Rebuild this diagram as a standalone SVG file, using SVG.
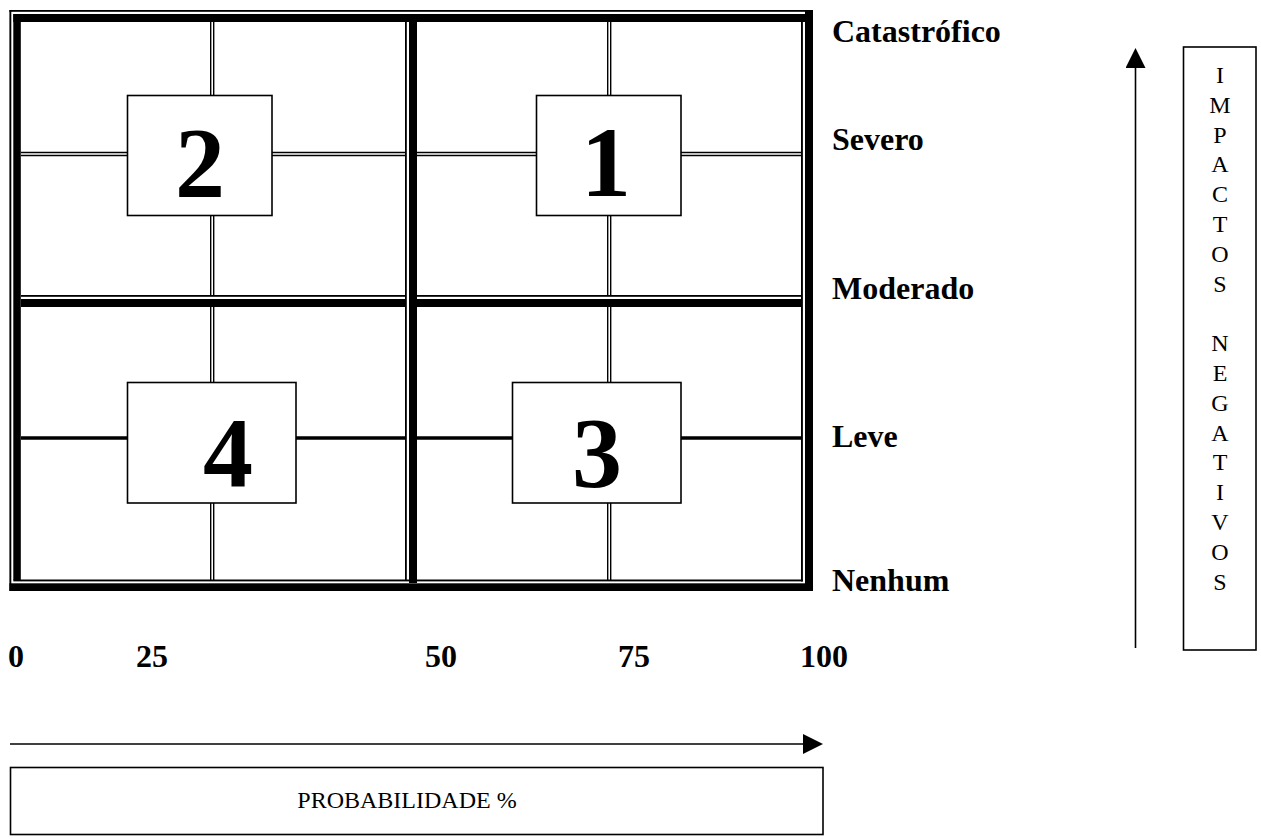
<svg xmlns="http://www.w3.org/2000/svg" width="1261" height="839" viewBox="0 0 1261 839">
<style>
.b{fill:#000}
.sub{stroke:#000;stroke-width:1.4;fill:none}
.subk{stroke:#000;stroke-width:3.6;fill:none}
.nbox{fill:#fff;stroke:#000;stroke-width:1.6}
.num{font-family:"Liberation Serif","Times New Roman",serif;font-weight:bold;font-size:100px;text-anchor:middle}
.lab{font-family:"Liberation Serif","Times New Roman",serif;font-weight:bold;font-size:32px}
.txt{font-family:"Liberation Serif","Times New Roman",serif;font-size:24px;text-anchor:middle}
.ln{stroke:#000;stroke-width:1.6;fill:none}
</style>
<defs>
<marker id="ah" viewBox="0 0 20 20" refX="0" refY="10" markerWidth="20" markerHeight="20" markerUnits="userSpaceOnUse" orient="auto">
<path d="M0,0 L20,10 L0,20 Z" fill="#000"/>
</marker>
</defs>
<rect width="1261" height="839" fill="#fff"/>
<g id="grid">
<path class="sub" d="M210.7,22V295M213.7,22V295M607.7,22V295M610.7,22V295M21,152.5H405M21,155.5H405M417,152.5H801M417,155.5H801"/>
<path class="sub" d="M210.7,307V580M213.7,307V580M607.7,307V580M610.7,307V580"/>
<path class="subk" d="M21,438H405M417,438H801"/>
<rect class="b" x="9.4" y="10" width="1.9" height="581"/>
<rect class="b" x="13.3" y="14" width="7.5" height="566"/>
<rect class="b" x="9.4" y="10" width="803.6" height="1.8"/>
<rect class="b" x="13.3" y="14" width="799.7" height="8"/>
<rect class="b" x="405" y="14" width="1.8" height="566"/>
<rect class="b" x="409" y="14" width="8" height="569"/>
<rect class="b" x="21" y="295" width="384" height="1.8"/>
<rect class="b" x="417" y="295" width="384" height="1.8"/>
<rect class="b" x="21" y="299" width="384" height="8"/>
<rect class="b" x="409" y="299" width="392" height="8"/>
<rect class="b" x="801" y="22" width="1.9" height="559.5"/>
<rect class="b" x="805" y="10" width="8" height="581"/>
<rect class="b" x="13.3" y="579.5" width="789.6" height="1.9"/>
<rect class="b" x="9.4" y="583.3" width="803.6" height="7.7"/>
</g>
<g id="box2">
<rect class="nbox" x="127.5" y="95.5" width="144.5" height="120"/>
<text class="num" x="200" y="196">2</text>
</g>
<g id="box1">
<rect class="nbox" x="536.5" y="95.5" width="144.5" height="120"/>
<text class="num" x="606" y="196">1</text>
</g>
<g id="box4">
<rect class="nbox" x="127.5" y="382.5" width="168.5" height="120.5"/>
<text class="num" x="228" y="486">4</text>
</g>
<g id="box3">
<rect class="nbox" x="512.5" y="382.5" width="168.5" height="120.5"/>
<text class="num" x="597" y="486">3</text>
</g>
<g id="impact-labels">
<text class="lab" x="832" y="42">Catastrófico</text>
<text class="lab" x="832" y="150">Severo</text>
<text class="lab" x="832" y="299">Moderado</text>
<text class="lab" x="832" y="447">Leve</text>
<text class="lab" x="832" y="591">Nenhum</text>
</g>
<g id="prob-labels">
<text class="lab" x="8" y="667">0</text>
<text class="lab" x="136" y="667">25</text>
<text class="lab" x="425" y="667">50</text>
<text class="lab" x="618" y="667">75</text>
<text class="lab" x="800" y="667">100</text>
</g>
<g id="connectors">
<line class="ln" x1="10" y1="744" x2="803" y2="744" marker-end="url(#ah)"/>
<line class="ln" x1="1135.5" y1="648" x2="1135.5" y2="68" marker-end="url(#ah)"/>
</g>
<g id="prob-box">
<rect class="ln" x="10.5" y="767.5" width="812.5" height="67"/>
<text class="txt" x="407" y="808">PROBABILIDADE %</text>
</g>
<g id="impact-box">
<rect class="ln" x="1183.5" y="47" width="72.5" height="603"/>
<text class="txt" x="1220" y="83">I</text>
<text class="txt" x="1220" y="112.8">M</text>
<text class="txt" x="1220" y="142.6">P</text>
<text class="txt" x="1220" y="172.4">A</text>
<text class="txt" x="1220" y="202.2">C</text>
<text class="txt" x="1220" y="232">T</text>
<text class="txt" x="1220" y="261.8">O</text>
<text class="txt" x="1220" y="291.6">S</text>
<text class="txt" x="1220" y="351.2">N</text>
<text class="txt" x="1220" y="381">E</text>
<text class="txt" x="1220" y="410.8">G</text>
<text class="txt" x="1220" y="440.6">A</text>
<text class="txt" x="1220" y="470.4">T</text>
<text class="txt" x="1220" y="500.2">I</text>
<text class="txt" x="1220" y="530">V</text>
<text class="txt" x="1220" y="559.8">O</text>
<text class="txt" x="1220" y="589.6">S</text>
</g>
</svg>
